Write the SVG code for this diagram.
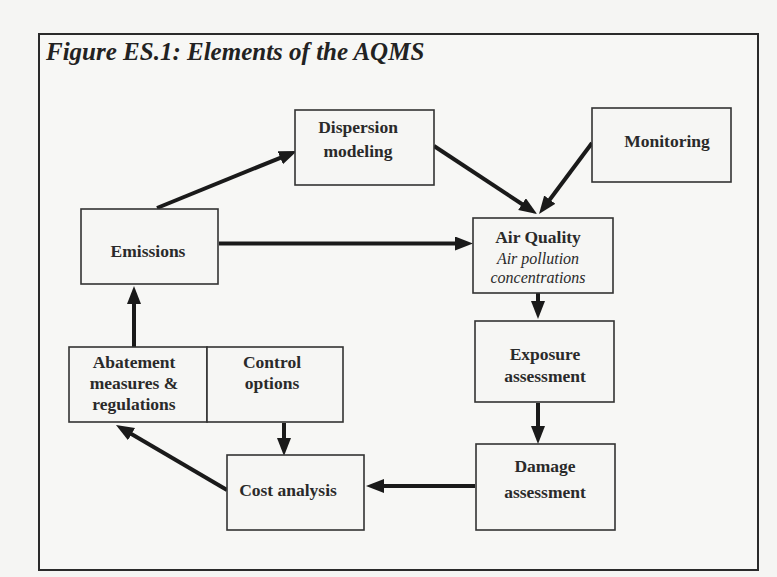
<svg xmlns="http://www.w3.org/2000/svg" width="777" height="577" viewBox="0 0 777 577">
<style>
.box{fill:#f6f6f4;stroke:#333;stroke-width:1.6}
.t{font-family:"Liberation Serif","DejaVu Serif",serif;font-weight:bold;font-size:17.5px;fill:#2a2a2a;text-anchor:middle}
.i{font-family:"Liberation Serif","DejaVu Serif",serif;font-style:italic;font-size:16px;fill:#2a2a2a;text-anchor:middle}
.c{stroke:#1a1a1a;stroke-width:4;fill:none;marker-end:url(#ah)}
</style>
<defs>
<marker id="ah" markerUnits="userSpaceOnUse" markerWidth="20" markerHeight="16" refX="8" refY="7" orient="auto">
<path d="M0,0 L18,7 L0,14 z" fill="#1a1a1a"/>
</marker>
</defs>
<rect x="0" y="0" width="777" height="577" fill="#f5f5f3"/>
<rect x="39" y="34" width="719" height="536" fill="#f7f7f5" stroke="#2a2a2a" stroke-width="2"/>
<text x="46" y="60" font-family="'Liberation Serif',serif" font-weight="bold" font-style="italic" font-size="25" fill="#222">Figure ES.1: Elements of the AQMS</text>

<g id="connectors">
<path class="c" d="M157,208 L287.7,154.8"/>
<path class="c" d="M434,146 L528.7,208.5"/>
<path class="c" d="M592,143 L545,206"/>
<path class="c" d="M219,243.5 L463,243.5"/>
<path class="c" d="M538,293 L538,309"/>
<path class="c" d="M538,403 L538,434"/>
<path class="c" d="M475,486 L376,486"/>
<path class="c" d="M284,423 L284,446"/>
<path class="c" d="M227,490 L124.6,430.1"/>
<path class="c" d="M134,347 L134,296"/>
</g>

<g id="dispersion">
<rect class="box" x="295" y="110" width="139" height="75"/>
<text class="t" x="358" y="133">Dispersion</text>
<text class="t" x="358" y="157">modeling</text>
</g>
<g id="monitoring">
<rect class="box" x="592" y="108" width="139" height="74"/>
<text class="t" x="667" y="147">Monitoring</text>
</g>
<g id="emissions">
<rect class="box" x="81" y="209" width="137" height="75"/>
<text class="t" x="148" y="257">Emissions</text>
</g>
<g id="airquality">
<rect class="box" x="473" y="218" width="140" height="75"/>
<text class="t" x="538" y="243">Air Quality</text>
<text class="i" x="538" y="264">Air pollution</text>
<text class="i" x="538" y="283">concentrations</text>
</g>
<g id="exposure">
<rect class="box" x="475" y="321" width="139" height="81"/>
<text class="t" x="545" y="360">Exposure</text>
<text class="t" x="545" y="382">assessment</text>
</g>
<g id="damage">
<rect class="box" x="476" y="444" width="139" height="86"/>
<text class="t" x="545" y="472">Damage</text>
<text class="t" x="545" y="498">assessment</text>
</g>
<g id="cost">
<rect class="box" x="227" y="455" width="137" height="75"/>
<text class="t" x="288" y="496">Cost analysis</text>
</g>
<g id="abatement">
<rect class="box" x="69" y="347" width="138" height="75"/>
<text class="t" x="134" y="368">Abatement</text>
<text class="t" x="134" y="389">measures &amp;</text>
<text class="t" x="134" y="410">regulations</text>
</g>
<g id="control">
<rect class="box" x="207" y="347" width="136" height="75"/>
<text class="t" x="272" y="368">Control</text>
<text class="t" x="272" y="389">options</text>
</g>
</svg>
